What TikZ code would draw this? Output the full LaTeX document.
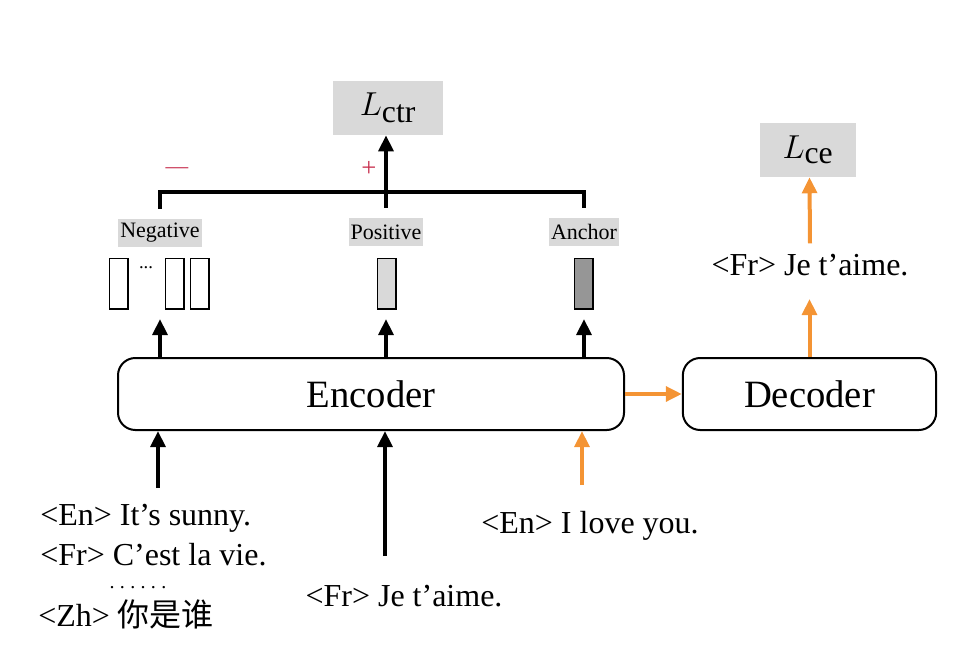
\documentclass[tikz,border=0pt]{standalone}
\usepackage{amsmath}
\usepackage{fontspec}
\setmainfont{Liberation Serif}
\newfontfamily\cjk{Noto Sans CJK SC}
\usetikzlibrary{arrows.meta,positioning,calc}
\definecolor{lossgray}{RGB}{217,217,217}
\definecolor{anchorgray}{RGB}{150,150,150}
\definecolor{decorange}{RGB}{244,148,52}
\definecolor{signred}{RGB}{200,50,80}
\newcommand{\moredots}{.\hspace{4pt}.\hspace{4pt}.\hspace{4pt}.\hspace{4pt}.\hspace{4pt}.}

\begin{document}
\begin{tikzpicture}[x=0.75pt, y=-0.75pt,
    block/.style={rectangle, draw, line width=1.5pt, rounded corners=13pt,
                  minimum height=54pt, font=\fontsize{29}{33}\selectfont},
    loss/.style={rectangle, fill=lossgray, minimum height=40.5pt,
                 font=\fontsize{34}{38}\selectfont},
    tag/.style={rectangle, fill=lossgray, inner sep=1.5pt, minimum height=21pt,
                font=\fontsize{16.5}{19}\selectfont},
    vec/.style={rectangle, draw, line width=1pt, minimum width=14pt, minimum height=38pt},
    sent/.style={font=\fontsize{24}{28}\selectfont, inner sep=0pt, anchor=base},
    line/.style={line width=3pt},
    arrow/.style={line width=3pt, -{Triangle[length=12pt, width=11pt]}},
    oarrow/.style={arrow, decorange}
]
\useasboundingbox (0,0) rectangle (979,657);

% Losses
\node[loss, minimum width=82pt] (ctr) at (388,108) {$L_{\text{ctr}}$};
\node[loss, minimum width=72pt] (ce) at (808,150) {$L_{\text{ce}}$};

% Representations
\node[tag] (neg) at (160,233) {Negative};
\node[tag] (pos) at (386,232) {Positive};
\node[tag] (anc) at (584,232) {Anchor};
\node[vec] (neg1) at (118.5,283.5) {};
\node[font=\fontsize{14}{16}\selectfont] (dots) at (146,268) {...};
\node[vec] (neg2) at (174.5,283.5) {};
\node[vec] (neg3) at (199.5,283.5) {};
\node[vec, fill=lossgray] (posvec) at (386.5,283.5) {};
\node[vec, fill=anchorgray] (ancvec) at (583.5,283.5) {};

\node[signred, font=\fontsize{17}{20}\selectfont] (minus) at (177,171) {—};
\node[signred, font=\fontsize{20}{24}\selectfont] (plus) at (369,169) {+};

% Encoder / decoder
\node[block, minimum width=379.5pt] (enc) at (371,394) {Encoder};
\node[block, minimum width=190pt] (dec) at (809.5,394) {Decoder};
\node[sent] (frout) at (810,275) {<Fr> Je t’aime.};

% Inputs
\node[sent, anchor=base west] (en1) at (40,525) {<En> It’s sunny.};
\node[sent, anchor=base west] (fr1) at (40,565) {<Fr> C’est la vie.};
\node[sent, font=\fontsize{15}{16}\selectfont] (more) at (138,588) {\moredots};
\node[sent, anchor=base west] (zh1) at (38,626) {<Zh> {\cjk 你是谁}};
\node[sent] (fr2) at (404,606) {<Fr> Je t’aime.};
\node[sent] (en2) at (590,533) {<En> I love you.};

\coordinate (src1) at (158,488);
\coordinate (src2) at (385,556);
\coordinate (src3) at (582,485);

% Contrastive branch
\draw[line] ($(neg.north)+(0,-10)$) -- ++(0,-17) -| ($(anc.north)+(0,-10)$);
\draw[arrow] ($(pos.north)+(0,-10)$) -- (ctr.south -| pos);
\draw[arrow] (enc.north -| neg) -- ++(0,-38);
\draw[arrow] (enc.north -| pos) -- ++(0,-38);
\draw[arrow] (enc.north -| anc) -- ++(0,-38);

\draw[arrow] (src1) -- (src1 |- enc.south);
\draw[arrow] (src2) -- (src2 |- enc.south);
\draw[oarrow] (src3) -- (src3 |- enc.south);

% Translation branch
\draw[oarrow] (enc.east) -- (dec.west);
\draw[oarrow] (dec.north) -- ++(0,-58);
\draw[oarrow] ($(frout.north)+(0,-10)$) -- (ce.south -| dec);

\end{tikzpicture}
\end{document}
